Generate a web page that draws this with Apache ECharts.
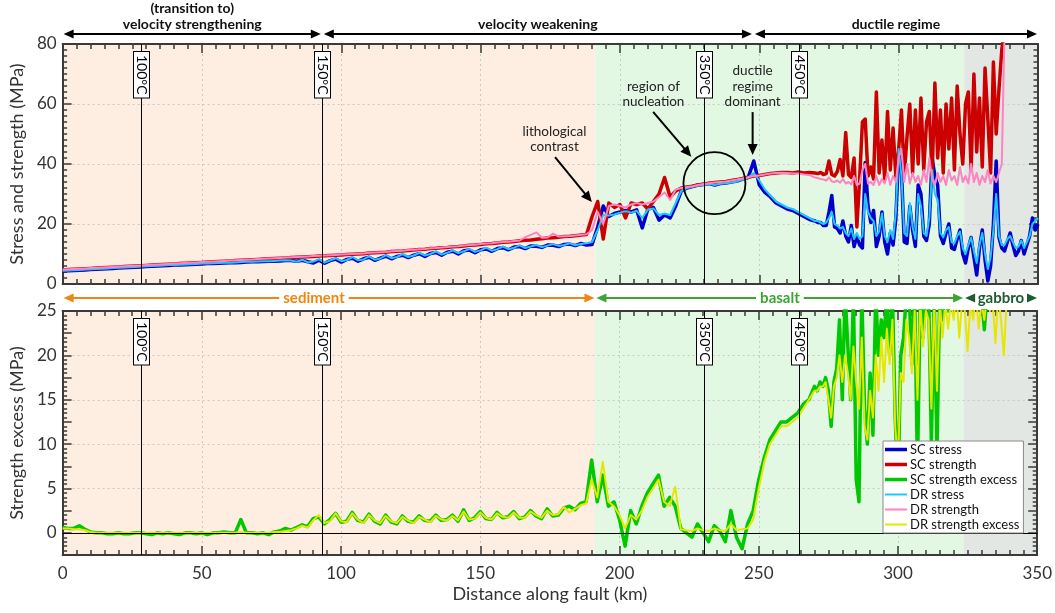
<!DOCTYPE html>
<html>
<head>
<meta charset="utf-8">
<title>Stress, strength and strength excess along the fault</title>
<script src="https://cdn.jsdelivr.net/npm/echarts@6.0.0/dist/echarts.min.js"></script>
<style>
  html, body { margin: 0; padding: 0; background: #ffffff; }
  #chart { width: 1055px; height: 613px; }
</style>
</head>
<body>
<div id="chart"></div>
<script>
// Sample positions along the fault: every 2 km up to 268 km, every 1 km from 270 to 350 km
const KM = [];
for (let k = 0; k < 270; k += 2) KM.push(k);
for (let k = 270; k <= 350; k += 1) KM.push(k);

const SC_STRESS = [
  4.3,4.4,4.5,4.6,4.7,4.8,4.9,5.0,5.1,5.2,
  5.3,5.4,5.5,5.6,5.7,5.8,5.9,6.0,6.1,6.2,
  6.3,6.3,6.4,6.5,6.6,6.7,6.8,6.8,6.9,7.0,
  7.1,7.1,7.2,7.3,7.4,7.4,7.5,7.6,7.6,7.7,
  7.8,7.8,7.6,7.9,7.4,7.0,7.9,6.9,7.8,8.3,
  7.3,8.2,8.6,7.6,8.4,8.9,7.9,8.6,9.3,8.4,
  9.2,9.6,8.8,9.6,10.1,9.2,10.2,10.5,9.6,10.6,
  10.9,10.0,11.1,11.3,10.4,11.4,11.7,10.9,11.8,12.1,
  11.4,12.3,12.5,11.8,12.7,12.6,12.2,13.0,12.9,12.5,
  13.2,13.3,12.8,13.5,13.0,13.2,19.0,26.0,22.5,23.5,
  24.0,24.5,24.0,24.7,18.7,25.0,25.5,21.3,23.0,22.0,
  26.0,31.0,32.0,32.5,33.0,33.2,33.5,33.0,33.5,33.7,
  34.0,34.3,35.0,35.5,41.0,33.0,30.5,29.0,27.0,26.0,
  25.0,24.5,23.5,22.5,21.5,
  // 270 km onwards, 1 km apart
  21.0,20.5,20.5,19.5,19.5,24.0,29.5,19.0,18.5,17.0,
  21.0,16.0,14.0,19.5,12.5,16.0,13.0,12.0,40.5,26.0,
  20.5,24.5,12.5,16.0,24.0,14.0,10.0,17.0,13.0,22.0,
  44.0,38.0,14.0,13.5,26.0,18.0,12.5,33.0,30.0,16.0,
  14.5,20.0,42.0,36.0,33.0,16.0,13.5,17.0,20.0,12.0,
  11.5,15.0,18.0,10.0,7.0,12.0,15.5,9.0,3.0,12.0,
  18.0,8.0,1.0,6.0,20.0,41.0,15.5,12.0,11.0,14.0,
  17.0,13.0,9.5,11.0,14.5,10.0,13.0,16.0,22.0,18.0,
  20.0
];

const SC_STRENGTH = [
  4.7,4.8,4.9,5.0,5.1,5.2,5.3,5.4,5.5,5.6,
  5.7,5.8,5.9,6.0,6.1,6.2,6.3,6.4,6.5,6.6,
  6.7,6.8,6.9,7.0,7.1,7.2,7.3,7.4,7.5,7.6,
  7.7,7.8,7.9,8.0,8.1,8.2,8.3,8.4,8.5,8.6,
  8.7,8.8,8.9,9.0,9.1,9.2,9.3,9.4,9.5,9.6,
  9.7,9.8,9.9,10.0,10.1,10.3,10.4,10.5,10.6,10.8,
  10.9,11.0,11.2,11.3,11.5,11.6,11.8,11.9,12.1,12.2,
  12.4,12.5,12.7,12.9,13.0,13.2,13.4,13.5,13.7,13.9,
  14.0,14.2,14.4,14.6,14.7,14.9,15.1,15.3,15.4,15.6,
  15.8,15.9,16.1,16.3,16.5,22.5,27.5,15.0,27.0,25.5,
  26.5,22.0,27.0,26.5,27.0,25.0,27.5,30.0,35.5,29.0,
  31.0,32.0,32.3,32.6,33.0,33.3,33.6,33.8,34.0,34.2,
  34.5,34.8,35.2,35.6,36.0,36.2,36.5,36.8,37.0,37.2,
  37.2,37.0,37.3,37.0,37.2,
  37.0,36.8,37.2,36.5,36.8,41.0,36.5,36.0,37.5,41.5,
  36.0,50.5,36.5,35.5,42.0,19.0,35.0,54.0,55.0,36.0,
  39.0,35.0,64.0,37.0,48.0,35.0,57.5,38.0,52.0,35.5,
  45.0,58.0,36.0,49.0,60.0,37.0,58.0,40.0,62.0,38.0,
  54.0,57.5,36.0,67.0,42.0,58.0,37.0,60.0,45.0,62.0,
  38.0,66.0,50.0,40.0,60.0,64.0,38.0,70.0,44.0,62.0,
  39.0,72.0,55.0,37.0,74.0,50.0,65.0,78.0,85.0,95.0,
  null,null,null,null,null,null,null,null,null,null,
  null
];

const DR_STRESS = [
  4.4,4.5,4.6,4.7,4.8,4.9,5.0,5.1,5.2,5.3,
  5.4,5.5,5.6,5.7,5.8,5.9,6.0,6.1,6.2,6.3,
  6.3,6.4,6.5,6.6,6.7,6.8,6.8,6.9,7.0,7.1,
  7.1,7.2,7.3,7.4,7.4,7.5,7.6,7.6,7.7,7.8,
  7.9,7.8,7.4,8.1,7.2,7.5,8.3,7.1,7.9,8.6,
  7.6,8.0,9.0,7.9,8.2,9.2,8.1,8.5,9.6,8.6,
  9.0,10.0,9.0,9.5,10.4,9.5,10.0,10.9,9.8,10.4,
  11.2,10.3,10.9,11.7,10.7,11.2,12.1,11.1,11.6,12.5,
  11.6,12.1,12.9,12.0,12.5,13.0,12.3,12.8,13.3,12.7,
  13.0,13.6,12.9,13.3,13.6,14.0,18.0,23.0,22.8,23.2,
  23.8,24.3,23.8,24.4,22.0,24.8,25.2,23.0,23.5,23.0,
  27.0,31.0,32.0,32.4,32.8,33.0,33.3,33.0,33.4,33.6,
  33.8,34.2,34.8,35.4,37.0,34.5,31.5,29.5,27.5,26.5,
  25.5,25.0,24.0,23.0,22.0,
  21.0,21.0,20.5,20.0,20.5,22.0,24.0,20.0,19.5,18.5,
  19.0,17.0,16.0,18.5,15.0,17.0,15.0,16.0,30.0,24.0,
  22.0,21.0,16.0,17.5,23.5,16.0,14.0,18.0,15.0,24.0,
  45.0,36.0,17.0,16.0,27.0,19.0,15.0,30.0,26.0,17.0,
  16.0,22.0,38.0,30.0,28.0,17.0,15.5,18.0,19.0,14.0,
  13.5,16.0,17.5,12.0,10.0,13.0,15.5,11.0,7.0,13.0,
  17.0,10.0,5.0,9.0,18.0,30.0,16.0,13.0,13.0,15.0,
  16.0,14.0,12.0,12.5,14.5,12.0,14.0,16.0,20.0,21.0,
  22.0
];

const DR_STRENGTH = [
  4.8,4.9,5.0,5.1,5.2,5.3,5.4,5.5,5.6,5.7,
  5.8,5.9,6.0,6.1,6.2,6.3,6.4,6.5,6.6,6.7,
  6.8,6.9,7.0,7.1,7.2,7.3,7.4,7.5,7.6,7.7,
  7.8,7.9,8.0,8.1,8.2,8.3,8.4,8.5,8.6,8.7,
  8.8,8.9,9.0,9.1,9.2,9.3,9.4,9.5,9.6,9.7,
  9.8,9.9,10.0,10.1,10.2,10.4,10.5,10.6,10.7,10.9,
  11.0,11.1,11.3,11.4,11.6,11.7,11.9,12.0,12.2,12.3,
  12.5,12.6,12.8,13.0,13.1,13.3,13.5,13.6,13.8,14.0,
  14.1,14.3,14.5,15.6,16.4,17.2,15.4,15.5,16.8,15.8,
  15.9,16.0,16.2,16.4,16.6,18.0,24.0,20.0,26.0,26.5,
  26.0,25.5,26.5,27.0,26.5,27.0,27.5,29.0,30.5,28.0,
  31.5,32.0,32.3,32.6,33.0,33.3,33.6,33.8,34.0,34.2,
  34.5,34.8,35.2,35.6,36.0,36.2,36.5,36.8,37.0,37.1,
  37.0,36.8,36.8,36.5,36.3,
  35.5,35.3,35.0,34.8,34.5,35.5,34.2,34.0,34.5,33.8,
  35.0,33.5,34.0,33.2,36.0,33.0,33.5,38.0,40.0,33.5,
  34.0,33.0,36.0,33.0,35.0,33.5,37.0,33.0,36.0,34.0,
  42.0,45.0,34.0,40.0,33.5,37.0,34.0,36.0,33.0,38.0,
  34.0,42.0,35.0,33.0,37.0,34.0,36.0,33.0,38.0,34.5,
  36.0,33.0,39.0,34.0,36.0,33.5,40.0,34.0,37.0,33.0,
  36.0,34.0,38.0,33.5,36.0,34.0,37.0,40.0,85.0,95.0,
  null,null,null,null,null,null,null,null,null,null,
  null
];

const SC_EXCESS = [
  0.6,0.5,0.5,0.8,0.4,0.1,0.0,0.0,-0.1,-0.1,
  0.0,-0.1,-0.1,0.0,0.0,-0.1,-0.2,0.0,-0.1,0.0,
  -0.1,-0.2,0.0,0.0,-0.1,0.0,-0.2,0.0,0.0,0.1,
  0.0,0.0,1.5,0.0,0.0,-0.1,0.0,-0.2,0.1,0.2,
  0.5,0.3,0.6,0.9,0.7,1.6,1.8,1.0,1.5,2.2,
  1.2,1.3,2.3,1.4,1.2,2.1,1.3,1.0,2.0,1.2,
  1.0,1.9,1.3,1.2,1.9,1.4,1.3,2.0,1.4,1.5,
  2.0,1.3,2.6,1.4,1.7,2.4,1.6,1.5,2.3,1.7,
  1.8,2.4,1.6,1.8,2.5,1.9,1.6,2.7,1.9,2.0,
  2.8,3.0,2.6,3.3,3.5,8.2,3.5,6.5,3.0,3.5,
  1.5,-1.5,2.5,1.0,3.0,4.5,5.5,6.5,3.0,4.0,
  3.0,0.5,0.0,-0.5,1.0,0.0,-1.0,0.8,0.2,-1.0,
  2.5,-0.5,-1.8,1.0,2.5,6.0,8.5,10.5,11.5,12.5,
  12.5,13.0,13.5,14.5,15.0,
  16.5,16.0,17.0,16.5,17.5,16.0,12.0,17.0,18.5,24.0,
  15.0,27.0,21.0,15.0,27.0,6.0,3.5,27.0,14.0,10.0,
  18.0,11.0,27.0,20.0,24.0,22.0,27.0,20.0,27.0,13.0,
  5.0,20.0,22.0,27.0,27.0,19.0,27.0,7.0,27.0,22.0,
  27.0,27.0,10.0,27.0,9.0,27.0,24.0,27.0,25.0,27.0,
  26.5,27.0,27.0,27.0,27.0,27.0,27.0,27.0,27.0,27.0,
  27.0,22.9,27.0,27.0,27.0,27.0,27.0,27.0,27.0,27.0,
  null,null,null,null,null,null,null,null,null,null,
  null
];

const DR_EXCESS = [
  0.5,0.5,0.4,0.4,0.3,0.1,0.0,0.0,0.0,0.0,
  0.0,0.0,0.0,0.0,0.0,0.0,0.0,0.0,0.0,0.0,
  0.0,0.0,0.0,0.0,0.0,0.0,0.0,0.0,0.0,0.0,
  0.0,0.0,0.1,0.0,0.0,0.0,0.0,0.0,0.1,0.1,
  0.2,0.3,0.5,0.8,0.6,1.4,2.0,1.1,1.3,2.2,
  1.3,1.2,2.2,1.5,1.1,2.0,1.4,1.1,1.9,1.3,
  1.1,1.8,1.4,1.1,1.8,1.5,1.2,1.9,1.5,1.4,
  1.9,1.4,2.4,1.5,1.6,2.3,1.7,1.5,2.2,1.8,
  1.7,2.3,1.7,1.7,2.4,2.0,1.7,2.5,2.0,2.1,
  2.9,2.3,2.7,3.1,3.3,6.0,4.0,8.0,3.5,3.0,
  2.0,0.5,2.0,1.5,2.5,4.0,5.0,6.0,3.5,3.0,
  5.2,0.4,0.3,0.2,0.5,0.3,0.2,0.5,0.3,0.2,
  1.0,0.3,0.4,0.5,1.5,5.0,8.0,10.0,11.0,12.0,
  12.0,12.5,13.0,14.0,15.0,
  16.0,16.0,16.5,16.5,17.0,15.0,13.0,16.5,17.5,20.0,
  17.0,20.0,18.0,15.0,21.0,17.0,14.0,22.0,12.0,10.5,
  16.0,13.0,20.0,16.0,22.0,17.0,23.0,19.0,24.0,12.0,
  8.0,18.0,17.0,24.0,22.0,18.0,25.0,15.0,26.0,21.0,
  25.0,24.0,14.0,26.0,16.0,26.0,22.0,26.0,23.0,26.0,
  24.0,27.0,22.0,26.0,25.0,20.5,26.0,24.0,27.0,23.0,
  26.0,24.0,27.0,25.0,26.0,21.4,27.0,24.0,20.0,26.0,
  null,null,null,null,null,null,null,null,null,null,
  null
];

// Lithology zones (km)
const ZONE_NAMES = ['sediment', 'basalt', 'gabbro'];
const ZONE_FROM = [0, 191.2, 323.5];
const ZONE_TO = [191.2, 323.5, 350];

// Isotherms (km)
const ISOTHERM_LABELS = ['100°C', '150°C', '350°C', '450°C'];
const ISOTHERM_KM = [28, 93, 230.3, 264.3];

// Frictional regimes (km)
const REGIME_LABELS = [['(transition to)', 'velocity strengthening'], ['velocity weakening'], ['ductile regime']];
const REGIME_FROM = [0, 93, 247.7];
const REGIME_TO = [93, 247.7, 350];

// Horizontal reference lines of the strength-excess panel (MPa)
const EXCESS_GRID = [5, 10, 15, 20];

const FONT = 'Lato, "Noto Sans", sans-serif';
const ZONE_FILL = ['#fdeee1', '#e3f8e3', '#e3e7e3'];
const ZONE_INK = ['#f0860f', '#3ca532', '#1d5c30'];
const AXIS_INK = '#3a3a3a';

// legend swatches: a bar inside an invisible 24x13 box (thick for SC, thin for DR)
const THICK_ICON = 'path://M0,0h0.05v0.05h-0.05zM0,4.5h24v4h-24zM23.95,12.95h0.05v0.05h-0.05z';
const THIN_ICON = 'path://M0,0h0.05v0.05h-0.05zM0,5.5h24v2h-24zM23.95,12.95h0.05v0.05h-0.05z';

const pairs = arr => arr.map((v, i) => [KM[i], v]);

function xAxisFor(gridIndex, position, withLabels) {
  return {
    type: 'value', gridIndex, position, min: 0, max: 350, interval: 50,
    axisLine: { show: true, onZero: false, lineStyle: { color: AXIS_INK, width: 2 } },
    axisTick: { show: true, inside: true, length: 9, lineStyle: { color: AXIS_INK, width: 1.5 } },
    minorTick: { show: true, splitNumber: 10, length: 5, lineStyle: { color: AXIS_INK, width: 1.5 } },
    axisLabel: { show: withLabels, margin: 10, fontFamily: FONT, fontSize: 17, color: '#333' },
    splitLine: { show: position === 'bottom', lineStyle: { color: '#c9c9c9', type: [2, 3], width: 1 } },
    name: withLabels ? 'Distance along fault (km)' : '',
    nameLocation: 'middle', nameGap: 30,
    nameTextStyle: { fontFamily: FONT, fontSize: 18, color: '#333' }
  };
}

function yAxisFor(gridIndex, position, range, name) {
  const isExcess = range[0] < 0;
  return {
    type: 'value', gridIndex, position, min: range[0], max: range[1], interval: range[2],
    axisLine: { show: true, onZero: false, lineStyle: { color: AXIS_INK, width: 2 } },
    axisTick: { show: true, inside: true, length: 9, lineStyle: { color: AXIS_INK, width: 1.5 } },
    minorTick: { show: true, splitNumber: range[3], length: 4.5, lineStyle: { color: AXIS_INK, width: 1.5 } },
    axisLabel: {
      show: position === 'left', margin: 6, fontFamily: FONT, fontSize: 17, color: '#333',
      formatter: v => (isExcess && Math.abs(v % 5) > 1e-6) ? '' : String(v)
    },
    splitLine: { show: position === 'left' && !isExcess, lineStyle: { color: '#c9c9c9', type: [2, 3], width: 1 } },
    name: position === 'left' ? name : '',
    nameLocation: 'middle', nameGap: 30, nameRotate: 90,
    nameTextStyle: { fontFamily: FONT, fontSize: 18, color: '#333' }
  };
}

function renderZone(params, api) {
  const cs = params.coordSys;
  const x0 = api.coord([api.value(0), 0])[0];
  const x1 = api.coord([api.value(1), 0])[0];
  return {
    type: 'rect',
    shape: { x: x0, y: cs.y, width: x1 - x0, height: cs.height },
    style: { fill: ZONE_FILL[params.dataIndex] }
  };
}

function renderIsotherm(params, api) {
  const cs = params.coordSys;
  const x = Math.round(api.coord([api.value(0), 0])[0]) + 0.5;
  return {
    type: 'group',
    children: [
      { type: 'line', shape: { x1: x, y1: cs.y, x2: x, y2: cs.y + cs.height }, style: { stroke: '#000', lineWidth: 1 } },
      {
        type: 'text', x: x, y: cs.y + 8, rotation: -Math.PI / 2,
        style: {
          text: ISOTHERM_LABELS[params.dataIndex], font: '14px ' + FONT, fill: '#000',
          align: 'left', verticalAlign: 'middle',
          backgroundColor: '#fff', borderColor: '#000', borderWidth: 1, padding: [1, 3, 0, 3]
        }
      }
    ]
  };
}

function renderGuide(params, api) {
  const cs = params.coordSys;
  const y = Math.round(api.coord([0, api.value(0)])[1]) + 0.5;
  return {
    type: 'line',
    shape: { x1: cs.x, y1: y, x2: cs.x + cs.width, y2: y },
    style: { stroke: '#c9c9c9', lineWidth: 1, lineDash: [2, 3] }
  };
}

function renderZeroLine(params, api) {
  const cs = params.coordSys;
  const y = Math.round(api.coord([0, api.value(0)])[1]) + 0.5;
  return {
    type: 'line',
    shape: { x1: cs.x, y1: y, x2: cs.x + cs.width, y2: y },
    style: { stroke: '#000', lineWidth: 1.2 }
  };
}

function lineSeries(name, values, color, width, xi, yi) {
  return {
    name, type: 'line', data: pairs(values), xAxisIndex: xi, yAxisIndex: yi,
    showSymbol: false, symbol: 'none', connectNulls: false, clip: true,
    lineStyle: { color, width, join: 'round' }, itemStyle: { color },
    z: 2
  };
}

const zoneData = ZONE_FROM.map((f, i) => [f, ZONE_TO[i]]);
const isoData = ISOTHERM_KM.map(k => [k, 0]);

const option = {
  animation: false,
  backgroundColor: '#ffffff',
  grid: [
    { left: 58, top: 44, width: 980, height: 240 },
    { left: 58, top: 311, width: 980, height: 244 }
  ],
  xAxis: [
    xAxisFor(0, 'bottom', false),
    xAxisFor(0, 'top', false),
    xAxisFor(1, 'bottom', true),
    xAxisFor(1, 'top', false)
  ],
  yAxis: [
    yAxisFor(0, 'left', [0, 80, 20, 10], 'Stress and strength (MPa)'),
    yAxisFor(0, 'right', [0, 80, 20, 10], ''),
    yAxisFor(1, 'left', [-2.5, 25, 2.5, 5], 'Strength excess (MPa)'),
    yAxisFor(1, 'right', [-2.5, 25, 2.5, 5], '')
  ],
  legend: {
    left: 883, top: 441, orient: 'vertical',
    itemWidth: 22, itemHeight: 13, itemGap: 2,
    padding: [2, 4, 2, 2],
    backgroundColor: '#ffffff', borderColor: '#8a8a8a', borderWidth: 1,
    textStyle: { fontFamily: FONT, fontSize: 13, color: '#111', padding: [0, 0, 0, -2] },
    data: [
      { name: 'SC stress', icon: THICK_ICON },
      { name: 'SC strength', icon: THICK_ICON },
      { name: 'SC strength excess', icon: THICK_ICON },
      { name: 'DR stress', icon: THIN_ICON },
      { name: 'DR strength', icon: THIN_ICON },
      { name: 'DR strength excess', icon: THIN_ICON }
    ]
  },
  series: [
    { type: 'custom', xAxisIndex: 0, yAxisIndex: 0, data: zoneData, renderItem: renderZone, z: -1, silent: true },
    { type: 'custom', xAxisIndex: 2, yAxisIndex: 2, data: zoneData, renderItem: renderZone, z: -1, silent: true },
    { type: 'custom', xAxisIndex: 2, yAxisIndex: 2, data: EXCESS_GRID.map(v => [v]), encode: { y: 0 }, renderItem: renderGuide, z: -0.5, silent: true },

    lineSeries('SC stress', SC_STRESS, '#0000c8', 3.5, 0, 0),
    lineSeries('SC strength', SC_STRENGTH, '#cc0000', 3.5, 0, 0),
    lineSeries('DR stress', DR_STRESS, '#1ec8ff', 2, 0, 0),
    lineSeries('DR strength', DR_STRENGTH, '#ff82c3', 2, 0, 0),
    lineSeries('SC strength excess', SC_EXCESS, '#00c800', 3.5, 2, 2),
    lineSeries('DR strength excess', DR_EXCESS, '#e6e600', 2, 2, 2),

    { type: 'custom', xAxisIndex: 2, yAxisIndex: 2, data: [[0]], encode: { y: 0 }, renderItem: renderZeroLine, z: 3, silent: true },
    { type: 'custom', xAxisIndex: 0, yAxisIndex: 0, data: isoData, renderItem: renderIsotherm, z: 4, silent: true },
    { type: 'custom', xAxisIndex: 2, yAxisIndex: 2, data: isoData, renderItem: renderIsotherm, z: 4, silent: true }
  ]
};

const chart = echarts.init(document.getElementById('chart'), null, { renderer: 'canvas' });
chart.setOption(option);

// ---- annotations placed through the axes' own scales ----
const X = km => chart.convertToPixel({ xAxisIndex: 0 }, km);
const Y = v => chart.convertToPixel({ yAxisIndex: 0 }, v);

const measureCtx = document.createElement('canvas').getContext('2d');
function textWidth(text, font) { measureCtx.font = font; return measureCtx.measureText(text).width; }

function head(tx, ty, ux, uy, color, len, half) {
  const bx = tx - ux * len, by = ty - uy * len;
  const nx = -uy, ny = ux;
  return { type: 'polygon', z: 50, shape: { points: [[tx, ty], [bx + nx * half, by + ny * half], [bx - nx * half, by - ny * half]] }, style: { fill: color } };
}

function arrow(x1, y1, x2, y2, color, width, startHead, endHead, len, half) {
  const d = Math.hypot(x2 - x1, y2 - y1), ux = (x2 - x1) / d, uy = (y2 - y1) / d;
  const out = [];
  const sx = startHead ? x1 + ux * len * 0.7 : x1, sy = startHead ? y1 + uy * len * 0.7 : y1;
  const ex = endHead ? x2 - ux * len * 0.7 : x2, ey = endHead ? y2 - uy * len * 0.7 : y2;
  out.push({ type: 'line', z: 50, shape: { x1: sx, y1: sy, x2: ex, y2: ey }, style: { stroke: color, lineWidth: width } });
  if (startHead) out.push(head(x1, y1, -ux, -uy, color, len, half));
  if (endHead) out.push(head(x2, y2, ux, uy, color, len, half));
  return out;
}

function label(text, x, y, font, color, align) {
  return { type: 'text', z: 50, x, y, style: { text, font, fill: color, align: align || 'center', verticalAlign: 'middle' } };
}

const graphics = [];
const topY = Y(80), baseY = Y(0);

// Regime arrows above the upper panel
const regimeFont = 'bold 14px ' + FONT;
REGIME_LABELS.forEach((lines, i) => {
  const xa = X(REGIME_FROM[i]) + (i === 0 ? 1 : 2);
  const xb = X(REGIME_TO[i]) - 1;
  const ya = topY - 10;
  graphics.push(...arrow(xa, ya, xb, ya, '#000', 2, true, true, 10, 4.5));
  const cx = (xa + xb) / 2;
  if (lines.length === 2) {
    graphics.push(label(lines[0], cx, ya - 26, regimeFont, '#111'));
    graphics.push(label(lines[1], cx, ya - 10, regimeFont, '#111'));
  } else {
    graphics.push(label(lines[0], cx, ya - 10, regimeFont, '#111'));
  }
});

// Lithology arrows between the two panels
const zoneFont = 'bold 15px ' + FONT;
const ZONE_TEXT_KM = [90.2, 257.4, 336.7];
ZONE_NAMES.forEach((name, i) => {
  const xa = X(ZONE_FROM[i]) + 1, xb = X(ZONE_TO[i]) - 1, ya = baseY + 14;
  const cx = X(ZONE_TEXT_KM[i]);
  const w = textWidth(name, zoneFont);
  const color = ZONE_INK[i];
  graphics.push(...arrow(xa, ya, cx - w / 2 - 4, ya, color, 2, true, false, 10, 4.5));
  graphics.push(...arrow(cx + w / 2 + 4, ya, xb, ya, color, 2, false, true, 10, 4.5));
  graphics.push(label(name, cx, ya, zoneFont, color));
});

// Notes inside the upper panel
const noteFont = '13.5px ' + FONT;
graphics.push(label('lithological', X(176.5), Y(50.8), noteFont, '#222'));
graphics.push(label('contrast', X(176.5), Y(45.8), noteFont, '#222'));
graphics.push(...arrow(X(176.7), Y(42.3), X(189.9), Y(27.3), '#000', 2, false, true, 11, 5));

graphics.push(label('region of', X(212), Y(65.8), noteFont, '#222'));
graphics.push(label('nucleation', X(212), Y(60.8), noteFont, '#222'));
graphics.push(...arrow(X(211.9), Y(57.4), X(225.6), Y(42.4), '#000', 2, false, true, 11, 5));
graphics.push({ type: 'circle', z: 50, shape: { cx: X(233.9), cy: Y(33.6), r: 31 }, style: { fill: 'none', stroke: '#000', lineWidth: 1.8 } });

graphics.push(label('ductile', X(247.6), Y(71), noteFont, '#222'));
graphics.push(label('regime', X(247.6), Y(65.8), noteFont, '#222'));
graphics.push(label('dominant', X(247.6), Y(60.8), noteFont, '#222'));
graphics.push(...arrow(X(247.6), Y(57.3), X(247.6), Y(43), '#000', 2, false, true, 11, 5));

chart.setOption({ graphic: { elements: graphics } });
</script>
</body>
</html>
